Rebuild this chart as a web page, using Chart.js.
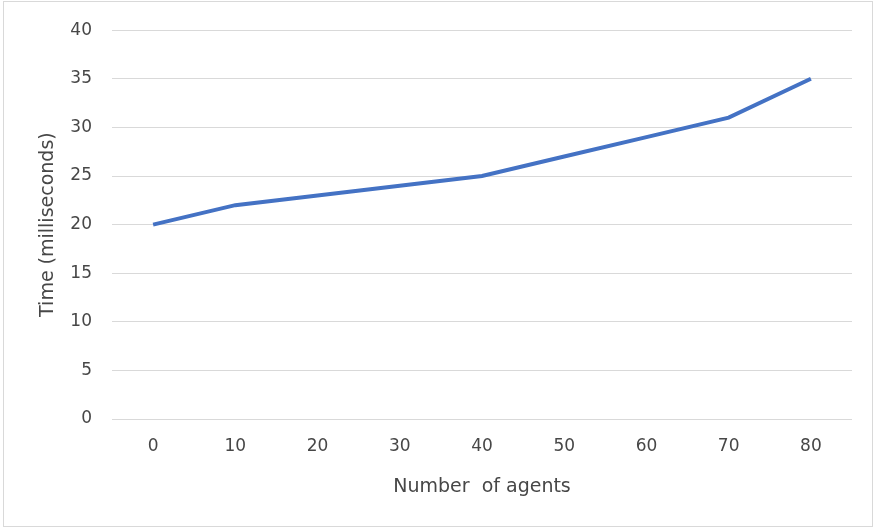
<!DOCTYPE html>
<html>
<head>
<meta charset="utf-8">
<script src="https://cdn.jsdelivr.net/npm/chart.js@4.4.1/dist/chart.umd.min.js"></script>
<style>
  html, body { margin: 0; padding: 0; background: #ffffff; }
  #wrap { position: relative; width: 875px; height: 528px; }
</style>
</head>
<body>
<div id="wrap"><canvas id="c" width="875" height="528"></canvas></div>
<script>
// Agents simulated vs. processing time per step
const agentCounts = ['0', '10', '20', '30', '40', '50', '60', '70', '80'];
const timeMs = [20, 22, 23, 24, 25, 27, 29, 31, 35];
const yTicks = [0, 5, 10, 15, 20, 25, 30, 35, 40];

const textColor = '#474747';
const gridColor = '#d9d9d9';
const fontFamily = '"DejaVu Sans", "Liberation Sans", sans-serif';

// Thin frame around the whole chart
const frame = {
  id: 'frame',
  beforeDraw(chart) {
    const ctx = chart.ctx;
    ctx.save();
    ctx.fillStyle = '#ffffff';
    ctx.fillRect(0, 0, chart.width, chart.height);
    ctx.strokeStyle = '#d9d9d9';
    ctx.lineWidth = 1;
    ctx.strokeRect(3.5, 1.5, 869, 525);
    ctx.restore();
  }
};

new Chart(document.getElementById('c'), {
  type: 'line',
  data: {
    labels: agentCounts,
    datasets: [{
      data: timeMs,
      borderColor: '#4472c4',
      borderWidth: 4,
      pointRadius: 0,
      tension: 0,
      fill: false
    }]
  },
  options: {
    responsive: false,
    animation: false,
    layout: { padding: { left: 0, right: 23, top: 29, bottom: 0 } },
    plugins: { legend: { display: false }, tooltip: { enabled: false } },
    scales: {
      x: {
        type: 'category',
        offset: true,
        grid: { display: false, drawTicks: false },
        border: { display: false },
        ticks: { color: textColor, font: { family: fontFamily, size: 17 }, padding: 17, maxRotation: 0 },
        title: {
          display: true,
          text: 'Number  of agents',
          color: textColor,
          font: { family: fontFamily, size: 19 },
          padding: { top: 0, bottom: 30 }
        },
        afterFit(scale) { scale.height = 109; }
      },
      y: {
        min: 0,
        max: 40,
        afterBuildTicks(scale) { scale.ticks = yTicks.map(v => ({ value: v })); },
        grid: { color: gridColor, lineWidth: 1, drawTicks: false },
        border: { display: false },
        ticks: { color: textColor, font: { family: fontFamily, size: 17 }, padding: 20 },
        title: {
          display: true,
          text: 'Time (milliseconds)',
          color: textColor,
          font: { family: fontFamily, size: 19 },
          padding: { top: 37, bottom: 0 }
        },
        afterFit(scale) { scale.width = 112; }
      }
    }
  },
  plugins: [frame]
});
</script>
</body>
</html>
